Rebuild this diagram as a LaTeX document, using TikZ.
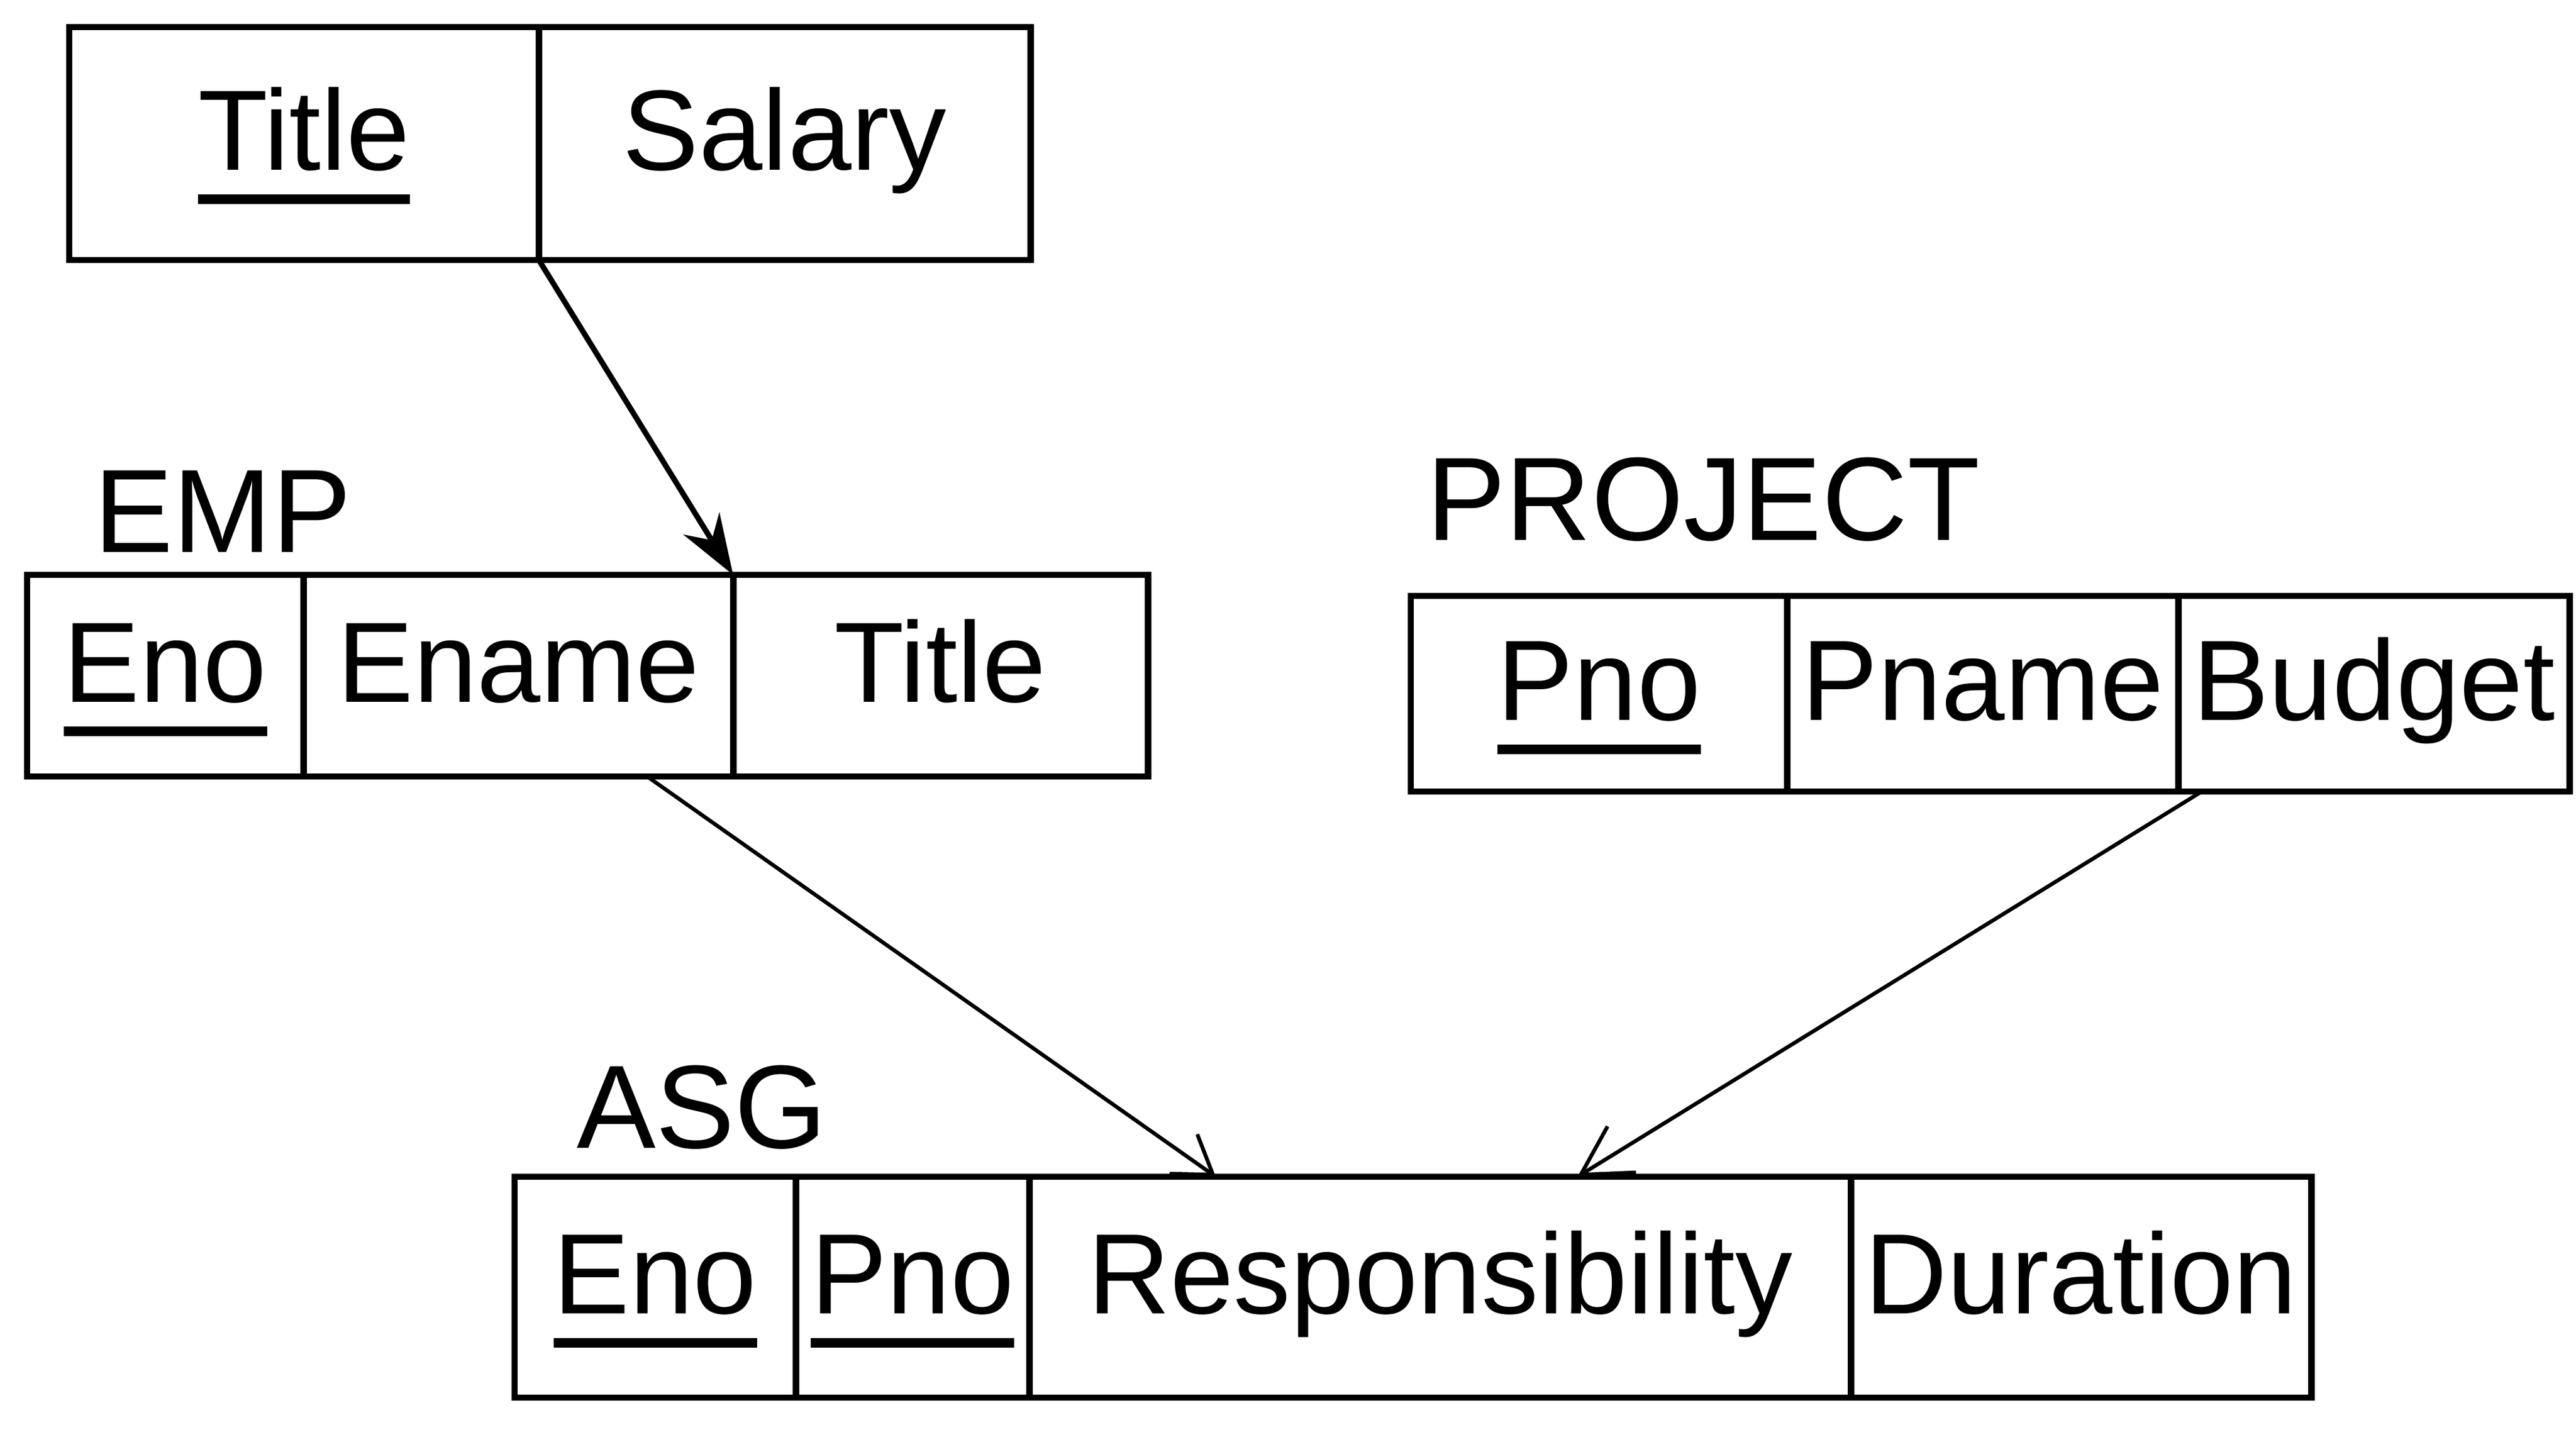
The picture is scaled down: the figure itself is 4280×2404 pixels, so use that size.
\documentclass[tikz,border=0pt]{standalone}
\usepackage{fontspec}
\setmainfont{Liberation Sans}
\usetikzlibrary{arrows.meta,calc}
\newcommand\keyattr[1]{\setbox0\hbox{#1}\rlap{\raisebox{-16pt}{\rule{\wd0}{4.5pt}}}\box0}
\begin{document}
\begin{tikzpicture}[x=0.01cm,y=-0.01cm,
  cell/.style={draw, line width=3pt, rectangle, inner sep=0pt, outer sep=0pt, anchor=north west,
    font=\fontsize{54}{60}\selectfont, text height=39pt, text depth=14pt},
  tablelabel/.style={inner sep=0pt, font=\fontsize{56}{64}\selectfont},
  fkarrow/.style={line width=1.8pt}]
\useasboundingbox (0,0) rectangle (4280,2404);
% top relation
\node[cell, minimum width=7.80cm, minimum height=3.87cm] (tTitle) at (115,45) {\keyattr{Title}};
\node[cell, minimum width=8.17cm, minimum height=3.87cm] (tSalary) at (895,45) {Salary};
% EMP
\node[tablelabel] (empLabel) at (370,850) {EMP};
\node[cell, minimum width=4.59cm, minimum height=3.35cm] (eEno) at (45,955) {\keyattr{Eno}};
\node[cell, minimum width=7.14cm, minimum height=3.35cm] (eEname) at (504,955) {Ename};
\node[cell, minimum width=6.89cm, minimum height=3.35cm] (eTitle) at (1218,955) {Title};
% PROJECT
\node[tablelabel] (projLabel) at (2830,830) {PROJECT};
\node[cell, minimum width=6.25cm, minimum height=3.25cm] (pPno) at (2344,990) {\keyattr{Pno}};
\node[cell, minimum width=6.50cm, minimum height=3.25cm] (pPname) at (2969,990) {Pname};
\node[cell, minimum width=6.50cm, minimum height=3.25cm] (pBudget) at (3619,990) {Budget};
% ASG
\node[tablelabel] (asgLabel) at (1166,1840) {ASG};
\node[cell, minimum width=4.67cm, minimum height=3.67cm] (aEno) at (855,1955) {\keyattr{Eno}};
\node[cell, minimum width=3.88cm, minimum height=3.67cm] (aPno) at (1322,1955) {\keyattr{Pno}};
\node[cell, minimum width=13.65cm, minimum height=3.67cm] (aResp) at (1710,1955) {Responsibility};
\node[cell, minimum width=7.65cm, minimum height=3.67cm] (aDur) at (3075,1955) {Duration};
% arrows
\draw[line width=2.6pt, -{Stealth[length=1.0cm,width=0.7cm]}] (tTitle.south east) -- (eTitle.north west);
\draw[fkarrow, -{Straight Barb[length=0.6cm,width=0.8cm]}]
  ($(eEname.south west)!0.8!(eEname.south east)$) -- ($(aResp.north west)!0.227!(aResp.north east)$);
\draw[fkarrow, -{Straight Barb[length=0.8cm,width=0.9cm]}]
  ($(pBudget.south west)!0.06!(pBudget.south east)$) -- ($(aResp.north west)!0.667!(aResp.north east)$);
\end{tikzpicture}
\end{document}
